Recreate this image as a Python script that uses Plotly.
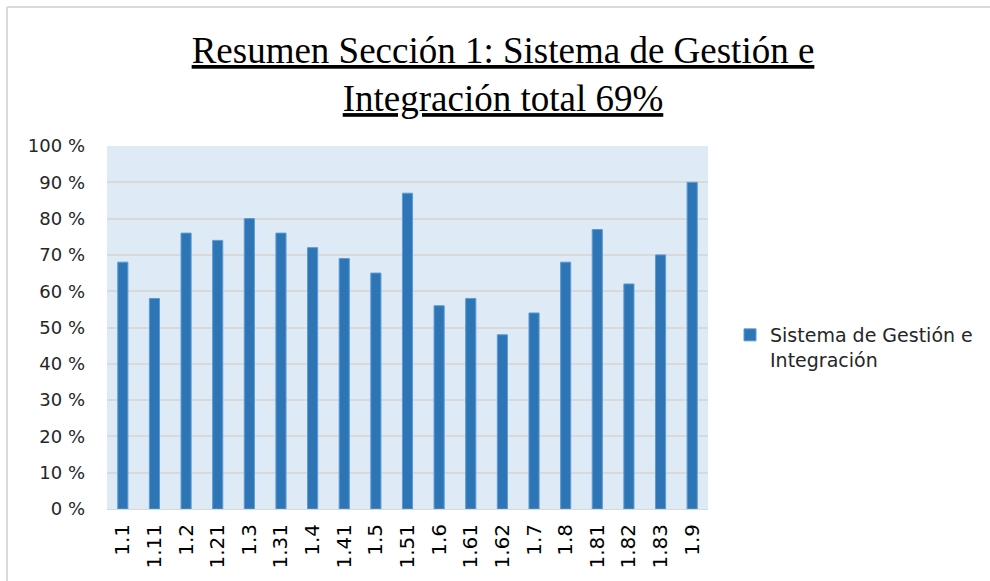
import plotly.graph_objects as go

categories = ["1.1", "1.11", "1.2", "1.21", "1.3", "1.31", "1.4", "1.41", "1.5", "1.51",
              "1.6", "1.61", "1.62", "1.7", "1.8", "1.81", "1.82", "1.83", "1.9"]
values = [68, 58, 76, 74, 80, 76, 72, 69, 65, 87, 56, 58, 48, 54, 68, 77, 62, 70, 90]
series_name = "Sistema de Gestión e<br>Integración"
title_lines = ["Resumen Sección 1: Sistema de Gestión e", "Integración total 69%"]
y_tickvals = [0, 10, 20, 30, 40, 50, 60, 70, 80, 90, 100]
y_ticktext = [f"{v} %" for v in y_tickvals]

L, R, T, B = 107, 282, 146, 72
W, H = 990, 581
pw, ph = W - L - R, H - T - B

fig = go.Figure()
fig.add_trace(go.Bar(
    x=categories, y=values, name=series_name,
    marker=dict(color="#2E75B6", line=dict(color="#5B9BD5", width=1)),
    width=0.32, showlegend=True,
))

fig.update_layout(
    width=W, height=H,
    margin=dict(l=L, r=R, t=T, b=B, autoexpand=False),
    paper_bgcolor="white",
    plot_bgcolor="#DEEAF6",
    title=dict(
        text="<br>".join(f"<u>{s}</u>" for s in title_lines),
        x=503 / W, xanchor="center",
        y=1 - 63 / H, yanchor="middle",
        font=dict(family="Liberation Serif", size=37, color="#000000"),
    ),
    font=dict(family="DejaVu Sans", color="#404040"),
    xaxis=dict(
        type="category", tickangle=-90, showgrid=False,
        tickfont=dict(family="DejaVu Sans", size=20, color="#000000"),
        showline=True, linecolor="#D9D9D9", linewidth=1,
        ticks="", ticklen=0, ticklabelstandoff=6,
    ),
    yaxis=dict(
        range=[0, 100], tickvals=y_tickvals, ticktext=y_ticktext,
        showgrid=True, gridcolor="#D9D9D9", gridwidth=2,
        tickfont=dict(family="DejaVu Sans", size=18, color="#262626"),
        zeroline=False, ticks="", ticklen=0, ticklabelstandoff=21,
    ),
    legend=dict(
        x=(730 - L) / pw, xanchor="left", y=(H - B - 316) / ph, yanchor="top",
        font=dict(family="DejaVu Sans", size=19, color="#262626"),
        bgcolor="rgba(0,0,0,0)", itemwidth=30, valign="top",
    ),
    showlegend=True,
)

# outer chart border (top and left)
fig.add_shape(type="line", xref="paper", yref="paper",
              x0=(7 - L) / pw, x1=(W - L) / pw, y0=(H - B - 7) / ph, y1=(H - B - 7) / ph,
              line=dict(color="#D9D9D9", width=2))
fig.add_shape(type="line", xref="paper", yref="paper",
              x0=(7 - L) / pw, x1=(7 - L) / pw, y0=(H - B - 7) / ph, y1=(H - B - H) / ph,
              line=dict(color="#D9D9D9", width=2))

fig.write_html("out.html", config={"displayModeBar": False},
               post_script="document.body.style.margin='0';")
